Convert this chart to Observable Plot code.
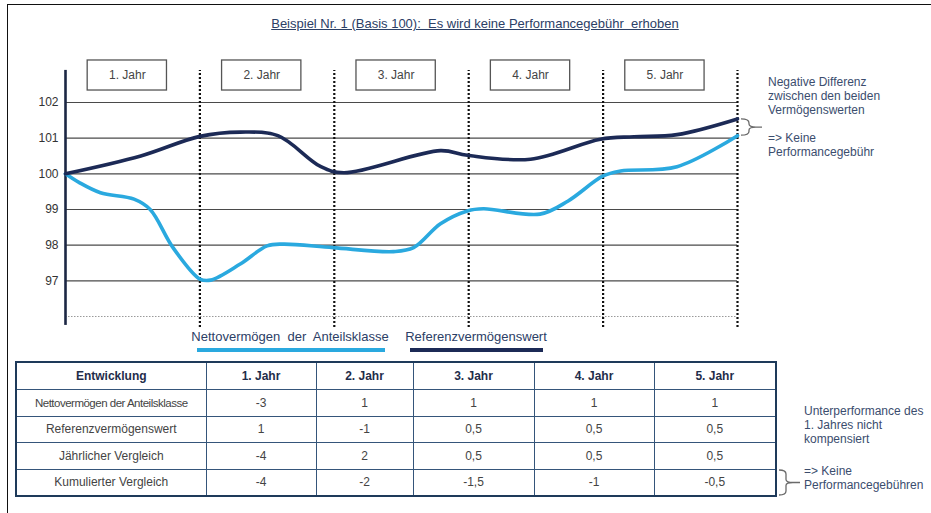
<!DOCTYPE html>
<html>
<head>
<meta charset="utf-8">
<script src="https://cdn.jsdelivr.net/npm/d3@7"></script>
<script src="https://cdn.jsdelivr.net/npm/@observablehq/plot@0.6"></script>
<style>
  body { margin: 0; background: #fff; font-family: Arial, "Liberation Sans", sans-serif; }
  #wrap { position: relative; width: 931px; height: 513px; overflow: hidden; background: #fff; }
  #frame { position: absolute; left: 7px; top: 4px; width: 940px; height: 520px; border-top: 1.5px solid #111; border-left: 1.5px solid #111; }
  #title { position: absolute; left: 0; width: 950px; top: 16px; text-align: center; font-size: 13px; color: #2c4066; text-decoration: underline; white-space: pre; }
  #chart { position: absolute; left: 0; top: 0; }
  .note { position: absolute; font-size: 12px; line-height: 14px; color: #3b4d6e; white-space: pre; }
  .legtext { position: absolute; font-size: 13px; color: #2c4066; text-align: center; line-height: 14px; white-space: pre; }
  .legline { position: absolute; height: 4px; }
  #tbl { position: absolute; left: 15px; top: 361px; width: 760px; border-collapse: collapse; table-layout: fixed; border: 2px solid #1e3a5a; }
  #tbl th, #tbl td { border: 1.5px solid #35557a; text-align: center; padding: 0; }
  #tbl th { height: 26px; font-size: 12px; font-weight: bold; color: #1f2d4a; }
  #tbl td { height: 25.5px; font-size: 12px; color: #444; }
  #tbl td.lab1 { font-size: 11.5px; letter-spacing: -0.5px; }
  #brace2 { position: absolute; left: 776px; top: 462px; }
</style>
</head>
<body>
<div id="wrap">
  <div id="frame"></div>
  <div id="chart"></div>
  <div id="title"></div>
  <div class="note" id="note1" style="left:768px; top:75px;"></div>
  <div class="note" id="note2" style="left:804px; top:404px;"></div>
  <div class="note" id="note3" style="left:804px; top:464px;"></div>
  <div class="legtext" id="leg1" style="left:180px; width:220px; top:330px;"></div>
  <div class="legline" id="legl1" style="left:197px; width:188px; top:348px;"></div>
  <div class="legtext" id="leg2" style="left:390px; width:172px; top:330px;"></div>
  <div class="legline" id="legl2" style="left:410px; width:133px; top:348px;"></div>
  <table id="tbl"></table>
  <svg id="brace2" width="40" height="40"></svg>
</div>
<script>
// ---------- data ----------
const titleText = "Beispiel Nr. 1 (Basis 100):  Es wird keine Performancegebühr  erhoben";
const yTicks = [97, 98, 99, 100, 101, 102];
const yearLabels = ["1. Jahr", "2. Jahr", "3. Jahr", "4. Jahr", "5. Jahr"];
const yearBounds = [1, 2, 3, 4, 5];

const netName = "Nettovermögen  der  Anteilsklasse";
const refName = "Referenzvermögenswert";

// Nettovermögen der Anteilsklasse (light blue)
const netX = [0, 0.1, 0.26, 0.51, 0.63, 0.80, 1.0, 1.08, 1.30, 1.50, 1.62, 1.99, 2.44, 2.59, 2.79, 2.99, 3.11, 3.53, 3.74, 4.0, 4.13, 4.55, 5.0];
const netY = [100, 99.76, 99.47, 99.29, 99.0, 97.93, 97.05, 97.02, 97.47, 97.98, 98.03, 97.93, 97.82, 97.93, 98.6, 98.96, 99.02, 98.87, 99.24, 99.94, 100.08, 100.2, 101.07];

// Referenzvermögenswert (dark navy)
const refX = [0, 0.56, 1.0, 1.3, 1.58, 1.9, 2.07, 2.79, 2.99, 3.46, 3.98, 4.23, 4.55, 5.0];
const refY = [100, 100.5, 101.05, 101.17, 101.07, 100.2, 100.03, 100.65, 100.52, 100.41, 100.97, 101.04, 101.1, 101.54];

const note1Lines = ["Negative Differenz", "zwischen den beiden", "Vermögenswerten", "", "=> Keine", "Performancegebühr"];
const note2Lines = ["Unterperformance des", "1. Jahres nicht", "kompensiert"];
const note3Lines = ["=> Keine", "Performancegebühren"];

const tableHeader = ["Entwicklung", "1. Jahr", "2. Jahr", "3. Jahr", "4. Jahr", "5. Jahr"];
const rowLabels = ["Nettovermögen  der Anteilsklasse", "Referenzvermögenswert", "Jährlicher Vergleich", "Kumulierter Vergleich"];
const rowNetto = ["-3", "1", "1", "1", "1"];
const rowReferenz = ["1", "-1", "0,5", "0,5", "0,5"];
const rowJaehrlich = ["-4", "2", "0,5", "0,5", "0,5"];
const rowKumuliert = ["-4", "-2", "-1,5", "-1", "-0,5"];
const colWidths = [190, 110, 97, 121, 120, 122];

// ---------- styles ----------
const lightBlue = "#2aa9df";
const darkNavy = "#1c2a56";

const netData = netX.map((x, i) => ({x, y: netY[i]}));
const refData = refX.map((x, i) => ({x, y: refY[i]}));

const plot = Plot.plot({
  width: 931,
  height: 360,
  marginLeft: 65,
  marginRight: 194,
  marginTop: 102,
  marginBottom: 44,
  style: {fontSize: "12px", fontFamily: "Arial, 'Liberation Sans', sans-serif", color: "#333", background: "transparent"},
  x: {domain: [0, 5], axis: null},
  y: {domain: [96, 102], ticks: yTicks, tickSize: 0, tickPadding: 7, label: null, tickFormat: d => String(d)},
  marks: [
    Plot.ruleY(yTicks, {x1: 0, x2: 5, stroke: "#4a4a4a", strokeWidth: 1.2}),
    Plot.ruleY([96], {x1: 0, x2: 5, stroke: "#9a9a9a", strokeWidth: 1, strokeDasharray: "1.5,1.5"}),
    Plot.ruleX(yearBounds, {y1: 95.69, y2: 102.9, stroke: "#111", strokeWidth: 2.2, strokeDasharray: "2,2"}),
    Plot.ruleX([0], {y1: 95.75, y2: 102.9, stroke: "#1c2744", strokeWidth: 2.6}),
    Plot.rect(yearBounds, {x1: d => d - 1 + 0.165, x2: d => d - 1 + 0.755, y1: 102.336, y2: 103.178, fill: "white", stroke: "#555", strokeWidth: 1.3}),
    Plot.text(yearLabels, {x: (d, i) => i + 0.46, y: 102.76, text: d => d, fontSize: 12, fill: "#444"}),
    Plot.line(netData, {x: "x", y: "y", curve: "catmull-rom", stroke: lightBlue, strokeWidth: 3.6, strokeLinejoin: "round", strokeLinecap: "round"}),
    Plot.line(refData, {x: "x", y: "y", curve: "catmull-rom", stroke: darkNavy, strokeWidth: 3.6, strokeLinejoin: "round", strokeLinecap: "round"})
  ]
});
document.getElementById("chart").appendChild(plot);

// curly brace between the two end values
(function () {
  const sx = plot.scale("x").apply, sy = plot.scale("y").apply;
  const x0 = sx(5) + 4;
  const y1 = sy(refY[refY.length - 1]) + 0.5;
  const y2 = sy(netY[netY.length - 1]);
  const ym = (y1 + y2) / 2;
  const b = x0 + 8;
  const p = `M${x0},${y1} Q${b},${y1} ${b},${y1 + 4} L${b},${ym - 3} Q${b},${ym} ${b + 7},${ym} Q${b},${ym} ${b},${ym + 3} L${b},${y2 - 4} Q${b},${y2} ${x0},${y2} M${b + 7},${ym} L${b + 13},${ym}`;
  d3.select(plot).append("path").attr("d", p).attr("fill", "none").attr("stroke", "#6a6a6a").attr("stroke-width", 1.3);
})();

// texts
document.getElementById("title").textContent = titleText;
document.getElementById("note1").textContent = note1Lines.join("\n");
document.getElementById("note2").textContent = note2Lines.join("\n");
document.getElementById("note3").textContent = note3Lines.join("\n");
document.getElementById("leg1").textContent = netName;
document.getElementById("leg2").textContent = refName;
document.getElementById("legl1").style.background = lightBlue;
document.getElementById("legl2").style.background = darkNavy;

// table
const tbl = d3.select("#tbl");
const cg = tbl.append("colgroup");
colWidths.forEach(w => cg.append("col").style("width", w + "px"));
const hr = tbl.append("tr");
tableHeader.forEach(h => hr.append("th").text(h));
const rows = [rowNetto, rowReferenz, rowJaehrlich, rowKumuliert];
rows.forEach((vals, r) => {
  const tr = tbl.append("tr");
  tr.append("td").attr("class", r === 0 ? "lab1" : null).text(rowLabels[r]);
  vals.forEach(v => tr.append("td").text(v));
});

// table brace
const rowsEl = document.querySelectorAll("#tbl tr");
const lastRow = rowsEl[rowsEl.length - 1].getBoundingClientRect();
const bsvg = d3.select("#brace2");
const top0 = 462;
const by1 = lastRow.top - top0 + 1, by2 = lastRow.bottom - top0 - 1, bym = (by1 + by2) / 2;
const bx0 = 3, bb = 10;
bsvg.append("path")
  .attr("d", `M${bx0},${by1} Q${bb},${by1} ${bb},${by1 + 4} L${bb},${bym - 3} Q${bb},${bym} ${bb + 7},${bym} Q${bb},${bym} ${bb},${bym + 3} L${bb},${by2 - 4} Q${bb},${by2} ${bx0},${by2} M${bb + 7},${bym} L${bb + 14},${bym}`)
  .attr("fill", "none").attr("stroke", "#6a6a6a").attr("stroke-width", 1.3);
</script>
</body>
</html>
